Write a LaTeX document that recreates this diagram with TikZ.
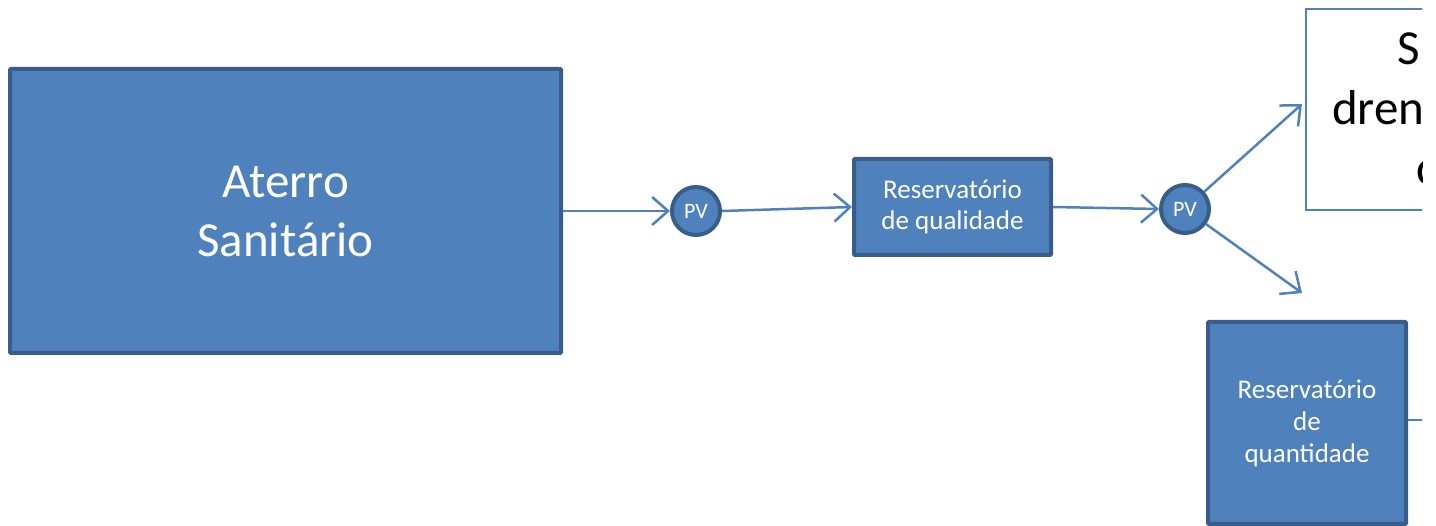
\documentclass[tikz,border=0pt]{standalone}
\usepackage{fontspec}
\setmainfont{Carlito}
\usetikzlibrary{arrows.meta}
\definecolor{pblue}{HTML}{4F81BD}
\definecolor{pdark}{HTML}{385D8A}
\tikzset{
  bluebox/.style={draw=pdark, fill=pblue, line width=4pt, rounded corners=1pt, text=white, align=center, inner sep=0pt},
  pvnode/.style={circle, draw=pdark, fill=pblue, line width=4pt, text=white, minimum size=48pt, inner sep=0pt, font=\fontsize{22}{26}\selectfont},
  conn/.style={draw=pblue, line width=2.5pt, -{Straight Barb[length=16pt,width=28pt,line width=2.5pt]}},
  plain/.style={draw=pblue, line width=2.5pt},
  bigtext/.style={anchor=base west, inner sep=0pt, font=\fontsize{49}{60}\selectfont}
}
\begin{document}
\begin{tikzpicture}[x=1pt,y=-1pt]
\useasboundingbox (0,0) rectangle (1436,526);
\clip (0,0) rectangle (1422,526);
% nodes
\node[bluebox, minimum width=551pt, minimum height=284pt, font=\fontsize{49}{59}\selectfont] (aterro) at (285.5,211) {Aterro\\Sanit\'ario};
\node[pvnode] (pv1) at (696,211) {PV};
\node[bluebox, minimum width=197pt, minimum height=96pt, font=\fontsize{27}{31}\selectfont] (qual) at (952.5,207) {Reservat\'orio\\de qualidade};
\node[pvnode] (pv2) at (1185,209) {PV};
\node[draw=pblue, fill=white, line width=2.5pt, minimum width=200pt, minimum height=201pt, inner sep=0pt] (topbox) at (1406,109.5) {};
\node[bigtext] (t1a) at (1397,65) {S};
\node[bigtext] (t1b) at (1332,125) {dren};
\node[bigtext] (t1c) at (1416,185) {c};
\node[bluebox, minimum width=198pt, minimum height=202pt, font=\fontsize{27}{32}\selectfont] (quant) at (1307,423) {Reservat\'orio\\de\\quantidade};
% connector ends
\coordinate (e1) at (1302,104);
\coordinate (e2) at (1302,293);
\coordinate (e3) at (1430,420);
% connectors
\draw[conn] (aterro.east) -- (pv1.west);
\draw[conn] (pv1.east) -- (qual.west);
\draw[conn] (qual.east) -- (pv2.west);
\draw[conn] (pv2) -- (e1);
\draw[conn] (pv2) -- (e2);
\draw[plain] (quant.east |- e3) -- (e3);
\end{tikzpicture}
\end{document}
